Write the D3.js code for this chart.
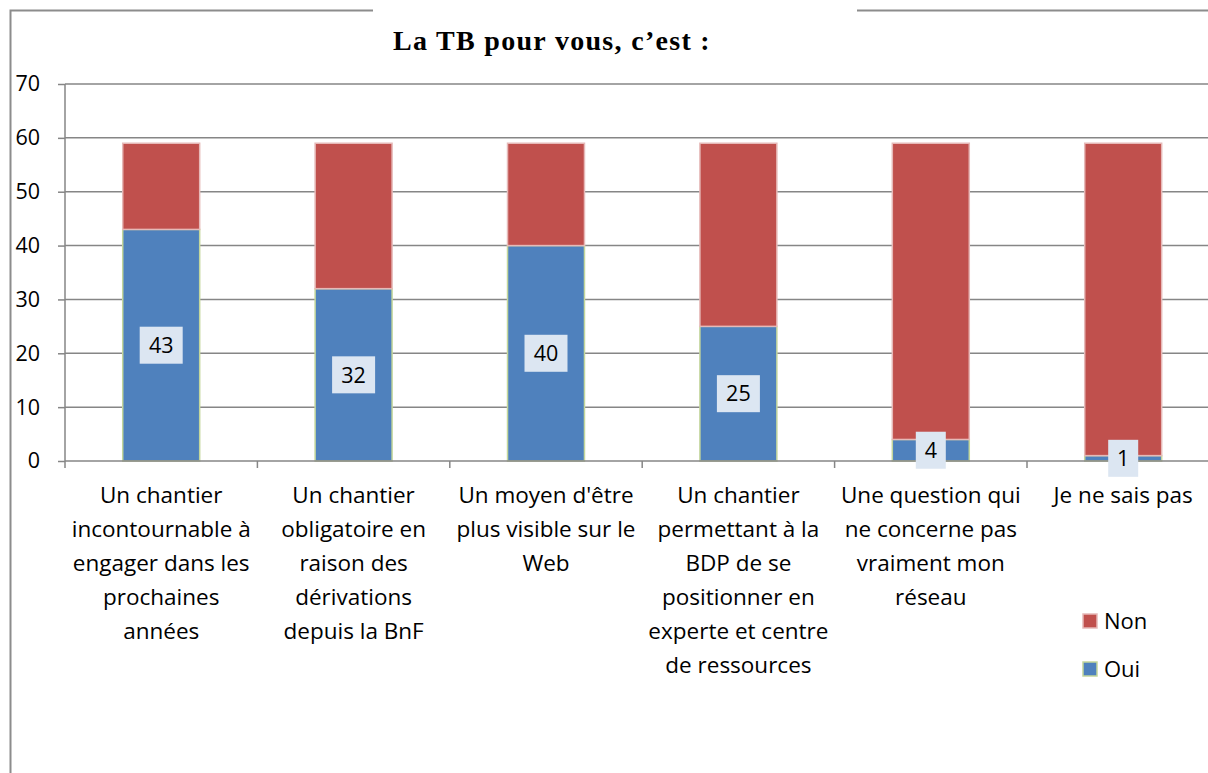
<!DOCTYPE html>
<html>
<head>
<meta charset="utf-8">
<script src="https://cdn.jsdelivr.net/npm/d3@7/dist/d3.min.js"></script>
<style>
  html, body { margin: 0; padding: 0; background: #fff; }
  svg { display: block; }
</style>
</head>
<body>
<svg id="chart" width="1208" height="773"></svg>
<script>
// Survey answers: "La TB pour vous, c'est :"
const categories = [
  ["Un chantier", "incontournable à", "engager dans les", "prochaines", "années"],
  ["Un chantier", "obligatoire en", "raison des", "dérivations", "depuis la BnF"],
  ["Un moyen d'être", "plus visible sur le", "Web"],
  ["Un chantier", "permettant à la", "BDP de se", "positionner en", "experte et centre", "de ressources"],
  ["Une question qui", "ne concerne pas", "vraiment mon", "réseau"],
  ["Je ne sais pas"]
];
const oui = [43, 32, 40, 25, 4, 1];
const non = [16, 27, 19, 34, 55, 58];
const seriesNames = ["Oui", "Non"];
const yTicks = [0, 10, 20, 30, 40, 50, 60, 70];

const colors = { Oui: "#4f81bd", Non: "#c0504d" };
const strokes = { Oui: "#c3d69b", Non: "#e6b9b8" };

const svg = d3.select("#chart");
const font = "'Open Sans', Lato, sans-serif";

// Outer frame with a gap behind the title
svg.append("path")
  .attr("d", "M10.5,773 V10.5 H373 M857,10.5 H1208")
  .attr("fill", "none").attr("stroke", "#8c8c8c").attr("stroke-width", 2);

svg.append("text")
  .attr("x", 552).attr("y", 50)
  .attr("text-anchor", "middle")
  .attr("font-family", "'Liberation Serif', 'DejaVu Serif', serif")
  .attr("font-weight", "bold").attr("font-size", 28)
  .attr("letter-spacing", 1.3)
  .text("La TB pour vous, c’est :");

const plotLeft = 65, plotTop = 84, plotBottom = 461;
const band = 192.4;
const x = d3.scaleBand()
  .domain(d3.range(categories.length))
  .range([plotLeft, plotLeft + band * categories.length])
  .paddingInner(0.6).paddingOuter(0.3);
const y = d3.scaleLinear().domain([0, 70]).range([plotBottom, plotTop]);

// Horizontal gridlines
svg.append("g").selectAll("line").data(yTicks.filter(d => d > 0)).join("line")
  .attr("x1", plotLeft).attr("x2", 1208)
  .attr("y1", d => y(d)).attr("y2", d => y(d))
  .attr("stroke", "#868686").attr("stroke-width", 1.5);

// Y axis
const yAxis = svg.append("g").attr("transform", `translate(${plotLeft},0)`)
  .call(d3.axisLeft(y).tickValues(yTicks).tickSize(7).tickPadding(8));
yAxis.select(".domain").attr("stroke", "#868686").attr("stroke-width", 1.5).attr("d", `M0,${plotTop}V${plotBottom}`);
yAxis.selectAll(".tick line").attr("stroke", "#868686").attr("stroke-width", 1.5);
yAxis.selectAll(".tick text").attr("font-family", font).attr("font-size", 21.5).attr("fill", "#000")
  .attr("x", -25).attr("text-anchor", "end");

// Stacked bars
const rows = categories.map((c, i) => ({ i, Oui: oui[i], Non: non[i] }));
const stack = d3.stack().keys(seriesNames)(rows);
svg.append("g").selectAll("g").data(stack).join("g")
  .attr("fill", s => colors[s.key])
  .attr("stroke", s => strokes[s.key]).attr("stroke-width", 1.5)
  .selectAll("rect").data(s => s).join("rect")
  .attr("x", d => x(d.data.i))
  .attr("width", x.bandwidth())
  .attr("y", d => y(d[1]))
  .attr("height", d => y(d[0]) - y(d[1]));

// X axis baseline and boundary ticks
const boundaries = d3.range(categories.length + 1).map(i => plotLeft + band * i);
svg.append("line").attr("x1", plotLeft).attr("x2", 1208).attr("y1", plotBottom).attr("y2", plotBottom)
  .attr("stroke", "#868686").attr("stroke-width", 1.5);
svg.append("g").selectAll("line").data(boundaries).join("line")
  .attr("x1", d => d).attr("x2", d => d).attr("y1", plotBottom).attr("y2", plotBottom + 7)
  .attr("stroke", "#868686").attr("stroke-width", 1.5);

// Value labels for "Oui"
const lbl = svg.append("g").selectAll("g").data(stack[0]).join("g")
  .attr("transform", d => `translate(${x(d.data.i) + x.bandwidth() / 2},${y((d[0] + d[1]) / 2)})`);
lbl.append("rect")
  .attr("width", d => String(d.data.Oui).length > 1 ? 43 : 30)
  .attr("x", d => String(d.data.Oui).length > 1 ? -21.5 : -15)
  .attr("y", -18.5).attr("height", 37).attr("fill", "#dce6f2");
lbl.append("text").attr("text-anchor", "middle").attr("dy", "0.36em")
  .attr("font-family", font).attr("font-size", 21.5).attr("fill", "#000")
  .text(d => d.data.Oui);

// Category labels
svg.append("g").selectAll("text").data(categories).join("text")
  .attr("text-anchor", "middle")
  .attr("font-family", font).attr("font-size", 22.5).attr("fill", "#000")
  .attr("transform", (d, i) => `translate(${x(i) + x.bandwidth() / 2},503)`)
  .selectAll("tspan").data(d => d).join("tspan")
  .attr("x", 0).attr("dy", (d, j) => j === 0 ? 0 : 34)
  .text(d => d);

// Legend
const legend = svg.append("g").attr("transform", "translate(1083,614)");
["Non", "Oui"].forEach((k, i) => {
  const g = legend.append("g").attr("transform", `translate(0,${i * 48})`);
  g.append("rect").attr("width", 14).attr("height", 14)
    .attr("fill", colors[k]).attr("stroke", strokes[k]).attr("stroke-width", 1.5);
  g.append("text").attr("x", 21).attr("y", 7).attr("dy", "0.36em")
    .attr("font-family", font).attr("font-size", 22).attr("fill", "#000").text(k);
});
</script>
</body>
</html>
